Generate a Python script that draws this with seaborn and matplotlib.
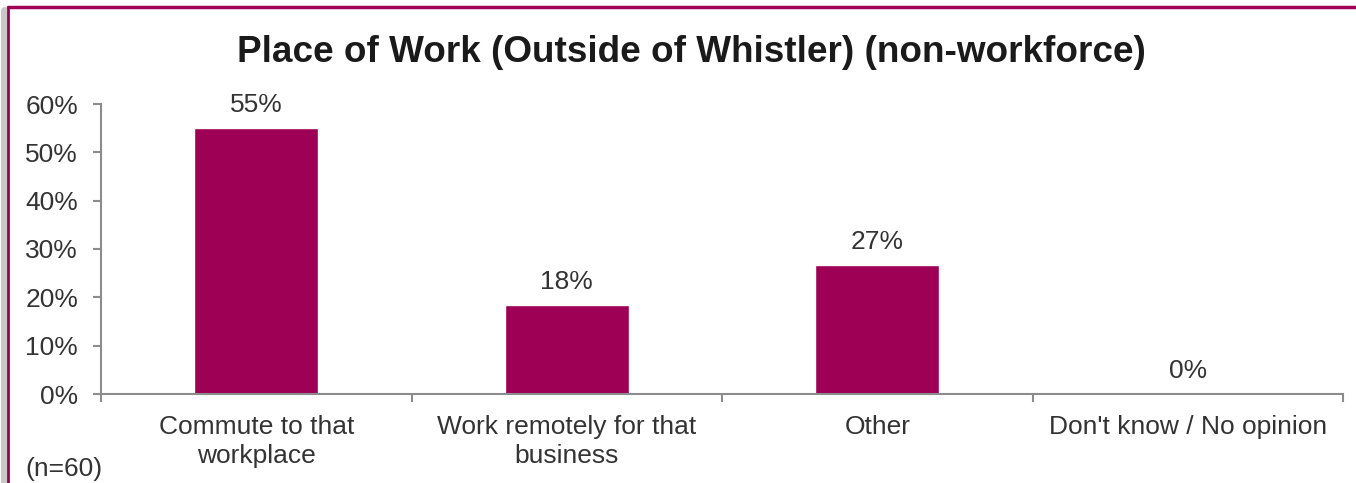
import matplotlib
matplotlib.use("Agg")
import matplotlib.pyplot as plt
import seaborn as sns
import pandas as pd
from matplotlib.ticker import FixedLocator, PercentFormatter
from matplotlib.lines import Line2D

categories = ["Commute to that\nworkplace", "Work remotely for that\nbusiness", "Other", "Don't know / No opinion"]
values = [0.55, 0.1833, 0.2667, 0.0]
labels = ["55%", "18%", "27%", "0%"]
yticks = [0, 0.1, 0.2, 0.3, 0.4, 0.5, 0.6]

title = "Place of Work (Outside of Whistler) (non-workforce)"
note = "(n=60)"

BAR = "#9E0056"
TXT = "#333333"
AX = "#8C8C8C"

sns.set_style("white")
plt.rcParams["font.family"] = ["Liberation Sans", "DejaVu Sans"]

df = pd.DataFrame({"cat": categories, "val": values})

fig = plt.figure(figsize=(13.56, 4.83), dpi=100)
ax = fig.add_axes([101/1356, 89/483, (1343-101)/1356, (394-104)/483])
sns.barplot(data=df, x="cat", y="val", color=BAR, width=0.4, ax=ax, saturation=1)

ax.set_xlim(-0.5, 3.5)
ax.set_ylim(0, 0.6)
ax.set_yticks(yticks)
ax.yaxis.set_major_formatter(PercentFormatter(1.0, decimals=0))
ax.set_xlabel("")
ax.set_ylabel("")

for s in ["top", "right"]:
    ax.spines[s].set_visible(False)
for s in ["left", "bottom"]:
    ax.spines[s].set_color(AX)
    ax.spines[s].set_linewidth(1.5)

ax.tick_params(axis="y", which="major", length=6, width=1.5, color=AX, labelsize=19, labelcolor=TXT, pad=10.5, left=True)
ax.tick_params(axis="x", which="major", length=0, labelsize=19, labelcolor=TXT, pad=15)
ax.xaxis.set_minor_locator(FixedLocator([-0.5, 0.5, 1.5, 2.5, 3.5]))
ax.tick_params(axis="x", which="minor", length=6, width=1.5, color=AX, bottom=True)
for t in ax.get_xticklabels():
    t.set_linespacing(1.25)

for i, (v, lab) in enumerate(zip(values, labels)):
    ax.annotate(lab, (i, v), xytext=(0, 8), textcoords="offset points",
                ha="center", va="bottom", fontsize=19, color=TXT)

fig.text(691/1356, 1 - 53/483, title, ha="center", va="center", fontsize=26.6, fontweight="bold", color="#1A1A1A")
fig.text(25/1356, 1 - 469/483, note, ha="left", va="center", fontsize=19, color=TXT)

# frame border with shadow
fig.add_artist(Line2D([4/1356, 4/1356], [0, 1 - 10/483], transform=fig.transFigure, color="#C8C8C8", lw=5))
fig.add_artist(Line2D([8/1356, 8/1356], [0, 1 - 7/483], transform=fig.transFigure, color=BAR, lw=2))
fig.add_artist(Line2D([8/1356, 1], [1 - 7/483, 1 - 7/483], transform=fig.transFigure, color=BAR, lw=2.5))

fig.savefig("out.png", dpi=100, facecolor="white")
